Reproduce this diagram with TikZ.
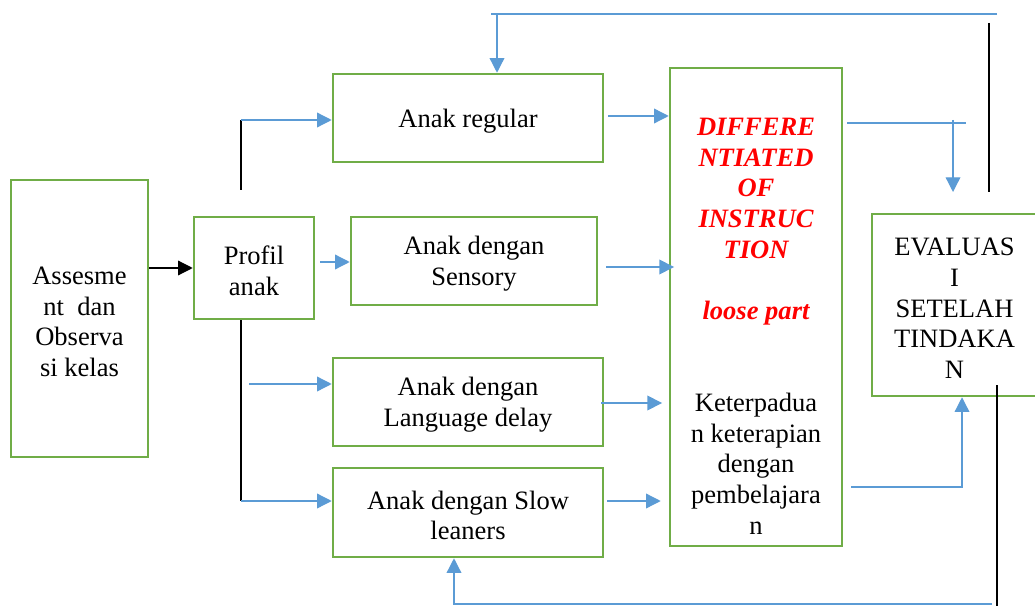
\documentclass[tikz,border=0pt]{standalone}
\usepackage{fontspec}
\setmainfont{Liberation Serif}
\usetikzlibrary{positioning, arrows.meta}
\definecolor{boxgreen}{RGB}{112,173,71}
\definecolor{flowblue}{RGB}{91,155,213}
\newcommand{\redtxt}[1]{\textcolor{red}{\bfseries\itshape #1}}
\newcommand{\topgap}{\rule{0pt}{18pt}}

\begin{document}
\begin{tikzpicture}[x=0.75pt, y=-0.75pt, >={Triangle[length=11pt,width=11pt]},
    every node/.style={align=center, font=\fontsize{19.9}{23}\selectfont},
    box/.style={draw=boxgreen, line width=1.9pt, inner sep=0pt},
    flow/.style={draw=flowblue, line width=1pt},
    plain/.style={draw=black, line width=0.9pt}]
    \useasboundingbox (0,0) rectangle (1035,606);

    \node[box, minimum width=102.75pt, minimum height=207.75pt] (assess) at (79.5,318.5) {\topgap Assesme\\nt~~dan\\Observa\\si kelas};
    \node[box, minimum width=90pt, minimum height=76.5pt] (profil) at (254,268) {\topgap Profil\\anak};
    \node[box, minimum width=202.5pt, minimum height=66pt] (regular) at (468,118) {\topgap Anak regular};
    \node[box, minimum width=184.5pt, minimum height=66pt] (sensory) at (474,261) {\topgap Anak dengan\\Sensory};
    \node[box, minimum width=202.5pt, minimum height=66pt] (language) at (468,402) {\topgap Anak dengan\\Language delay};
    \node[box, minimum width=202.5pt, minimum height=66.75pt] (slow) at (468,512.5) {\topgap Anak dengan Slow\\leaners};
    \node[box, minimum width=129pt, minimum height=358.5pt] (diff) at (756,307) {};
    \node (difftext) at (756,326) {\redtxt{DIFFERE}\\\redtxt{NTIATED}\\\redtxt{OF}\\\redtxt{INSTRUC}\\\redtxt{TION}\\[23pt]\redtxt{loose part}\\[46pt]Keterpadua\\n keterapian\\dengan\\pembelajara\\n};
    \node[box, minimum width=123.75pt, minimum height=136.5pt] (eval) at (954.5,305) {\topgap EVALUAS\\I\\SETELAH\\TINDAKA\\N};

    % masuk ke profil anak
    \draw[plain, ->] (assess.east |- profil.west) -- (profil.west);

    % cabang profil anak
    \coordinate (p0) at (241,120);
    \coordinate (p1) at (241,190);
    \draw[plain] (p1) -- (p0);
    \draw[flow, ->] (p0) -- (p0 -| regular.west);
    \coordinate (s0) at (320,262);
    \draw[flow, ->] (s0) -- (s0 -| sensory.west);
    \coordinate (l0) at (249,384);
    \draw[flow, ->] (l0) -- (l0 -| language.west);
    \coordinate (q0) at (241,501);
    \draw[plain] (profil.south -| q0) -- (q0);
    \draw[flow, ->] (q0) -- (q0 -| slow.west);

    % ke differentiated instruction
    \coordinate (d1) at (608,116);
    \draw[flow, ->] (d1) -- (d1 -| diff.west);
    \coordinate (d2) at (606,267);
    \draw[flow, ->] (d2) -- ([xshift=4pt]d2 -| diff.west);
    \coordinate (d3) at (601,403);
    \draw[flow, ->] (d3) -- ([xshift=-5pt]d3 -| diff.west);
    \coordinate (d4) at (607,501);
    \draw[flow, ->] (d4) -- ([xshift=-6pt]d4 -| diff.west);

    % ke evaluasi
    \coordinate (e0) at (847,123);
    \coordinate (e1) at (966,123);
    \draw[flow] (e0) -- (e1);
    \coordinate (e2) at (953,120);
    \coordinate (e3) at (953,192);
    \draw[flow, ->] (e2) -- (e3);
    \coordinate (e4) at (851,487);
    \coordinate (e5) at (962,487);
    \draw[flow, ->] (e4) -- (e5) -- (e5 |- eval.south);

    % umpan balik
    \coordinate (v0) at (989,23);
    \coordinate (v1) at (989,192);
    \draw[plain] (v0) -- (v1);
    \coordinate (t0) at (997,14);
    \coordinate (t1) at (491,14);
    \draw[flow] (t0) -- (t1);
    \coordinate (t2) at (497,14);
    \draw[flow, ->] (t2) -- (t2 |- regular.north);
    \coordinate (w0) at (997,385);
    \coordinate (w1) at (997,606);
    \draw[plain] (w0) -- (w1);
    \coordinate (b0) at (992,604);
    \coordinate (b1) at (454,604);
    \draw[flow, ->] (b0) -- (b1) -- (b1 |- slow.south);
\end{tikzpicture}
\end{document}
